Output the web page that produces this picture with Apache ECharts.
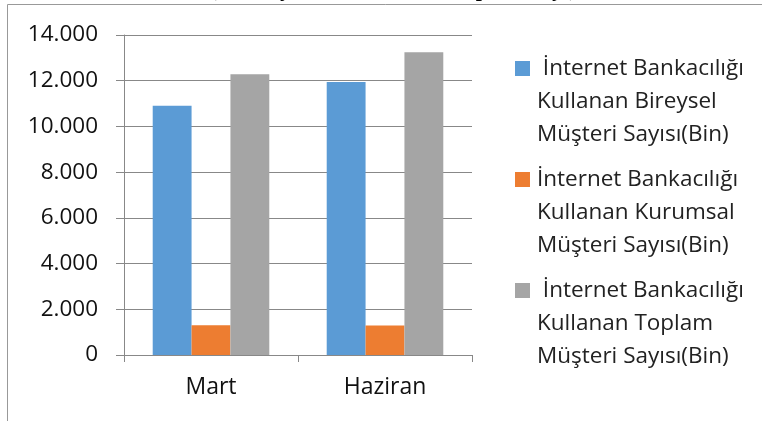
<!DOCTYPE html>
<html>
<head>
<meta charset="utf-8">
<script src="https://cdn.jsdelivr.net/npm/echarts@6/dist/echarts.min.js"></script>
<style>
  html, body { margin: 0; padding: 0; background: #fff; }
  #chart { width: 762px; height: 421px; }
</style>
</head>
<body>
<div id="chart"></div>
<script>
// veriler (bin kişi)
var categories = ['Mart', 'Haziran'];
var bireysel = [10910, 11940];
var kurumsal = [1300, 1290];
var toplam = [12280, 13250];
var seriesNames = [
  ' İnternet Bankacılığı\nKullanan Bireysel\nMüşteri Sayısı(Bin)',
  'İnternet Bankacılığı\nKullanan Kurumsal\nMüşteri Sayısı(Bin)',
  ' İnternet Bankacılığı\nKullanan Toplam\nMüşteri Sayısı(Bin)'
];
var yTicks = [0, 2000, 4000, 6000, 8000, 10000, 12000, 14000];

var gridColor = '#888';
var font = '"Open Sans", sans-serif';

// legend ikonu: ilk satira hizali kare
var icon = 'path://M0,9h15v15h-15z M17,0h0.01v0.01h-0.01z M0,99h0.01v0.01h-0.01z';

var chart = echarts.init(document.getElementById('chart'));
var option = {
  animation: false,
  title: {
    text: '(Bin Kişi, Mart, Haziran, Toplam Sayı)',
    left: 393,
    textAlign: 'center',
    top: -21,
    padding: 0,
    textStyle: { fontFamily: '"Liberation Serif", serif', fontWeight: 'bold', fontSize: 22, color: '#000' }
  },
  graphic: [{
    type: 'rect',
    z: -10,
    shape: { x: 7.5, y: 4.5, width: 800, height: 500 },
    style: { fill: 'none', stroke: '#999', lineWidth: 1 }
  }],
  legend: {
    orient: 'vertical',
    left: 515,
    top: 52,
    padding: 0,
    itemWidth: 17,
    itemHeight: 99,
    itemGap: 12,
    icon: icon,
    textStyle: { fontFamily: font, fontSize: 22.5, lineHeight: 33, color: '#222' },
    data: seriesNames
  },
  grid: { left: 124, top: 35, right: 290, bottom: 66 },
  xAxis: {
    type: 'category',
    data: categories,
    axisLine: { lineStyle: { color: gridColor } },
    axisTick: { show: true, length: 7, lineStyle: { color: gridColor } },
    axisLabel: { margin: 21, fontFamily: font, fontSize: 23, color: '#111' }
  },
  yAxis: {
    type: 'value',
    min: yTicks[0],
    max: yTicks[yTicks.length - 1],
    interval: yTicks[1] - yTicks[0],
    axisLine: { show: true, lineStyle: { color: gridColor } },
    axisTick: { show: true, length: 8, lineStyle: { color: gridColor } },
    splitLine: { lineStyle: { color: gridColor } },
    axisLabel: {
      margin: 26,
      fontFamily: font,
      fontSize: 22.5,
      color: '#111',
      formatter: function (v) { return String(v).replace(/\B(?=(\d{3})+(?!\d))/g, '.'); }
    }
  },
  series: [
    { name: seriesNames[0], type: 'bar', data: bireysel, itemStyle: { color: '#5B9BD5' }, barGap: '0%', barCategoryGap: '33%' },
    { name: seriesNames[1], type: 'bar', data: kurumsal, itemStyle: { color: '#ED7D31' } },
    { name: seriesNames[2], type: 'bar', data: toplam, itemStyle: { color: '#A5A5A5' } }
  ]
};
chart.setOption(option);
</script>
</body>
</html>
